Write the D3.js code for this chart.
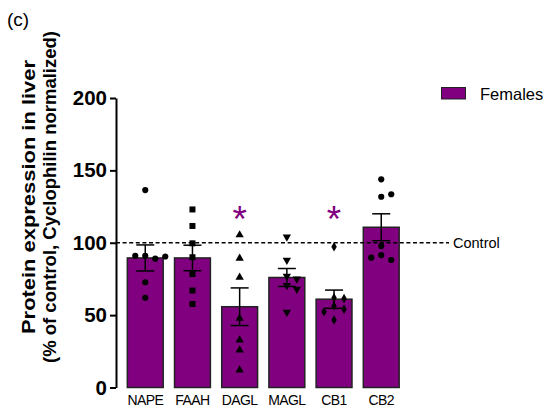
<!DOCTYPE html>
<html>
<head>
<meta charset="utf-8">
<script src="https://cdn.jsdelivr.net/npm/d3@7"></script>
<style>
  body { margin: 0; background: #fff; }
  svg { display: block; font-family: "Liberation Sans", Arial, sans-serif; }
</style>
</head>
<body>
<div id="chart"></div>
<script>
// data
const proteins = ["NAPE", "FAAH", "DAGL", "MAGL", "CB1", "CB2"];
const means = [89.5, 89.5, 55.8, 76, 61, 110.7];
const sems = [9, 8.8, 13, 6.2, 6.3, 9.3];
const individuals = [
  [136.4, 91, 89, 91, 90.5, 72.7, 62],
  [123, 111.6, 99.6, 90, 78.4, 67, 57.7],
  [105.4, 89.3, 76.1, 47.8, 32.8, 25.9, 12.1],
  [104, 88, 77, 75, 70.5, 68, 52],
  [97.3, 62, 61.5, 56.3, 54, 52.4, 46.6],
  [143.8, 131.8, 133.5, 97.8, 91.5, 88.1, 89.7]
];
const significant = ["DAGL", "CB1"];
const yTicks = [0, 50, 100, 150, 200];
const controlLevel = 100;

const purple = "#800080";
const W = 548, H = 418;

const svg = d3.select("#chart").append("svg")
  .attr("width", W).attr("height", H);

const x = d3.scaleBand()
  .domain(proteins)
  .range([116, 410.5])
  .paddingInner(0.24)
  .paddingOuter(0.24);

const y = d3.scaleLinear()
  .domain([0, 200])
  .range([387.5, 98]);

// panel letter
svg.append("text")
  .attr("x", 7).attr("y", 26)
  .style("font-size", "19px")
  .text("(c)");

// y axis
const yAxis = svg.append("g")
  .attr("transform", "translate(116,0)")
  .call(d3.axisLeft(y).tickValues(yTicks).tickSize(6).tickSizeOuter(0).tickPadding(3));
yAxis.select(".domain").attr("stroke", "#000").attr("stroke-width", 2);
yAxis.selectAll(".tick line").attr("stroke", "#000").attr("stroke-width", 2);
yAxis.selectAll(".tick text")
  .style("font-family", "'Liberation Sans', Arial, sans-serif")
  .style("font-size", "20.5px")
  .style("font-weight", "bold")
  .attr("fill", "#000");

// y title
const title = svg.append("text")
  .attr("transform", "translate(0,197) rotate(-90)")
  .attr("text-anchor", "middle")
  .style("font-size", "18.5px")
  .style("font-weight", "bold");
title.append("tspan").attr("x", 0).attr("y", 34.5)
  .attr("textLength", 274).attr("lengthAdjust", "spacingAndGlyphs")
  .text("Protein expression in liver");
title.append("tspan").attr("x", 0).attr("y", 55.5)
  .attr("textLength", 332).attr("lengthAdjust", "spacingAndGlyphs")
  .text("(% of control, Cyclophilin normalized)");

// bars
svg.append("g").selectAll("rect")
  .data(proteins)
  .join("rect")
  .attr("x", d => x(d))
  .attr("width", x.bandwidth())
  .attr("y", (d, i) => y(means[i]))
  .attr("height", (d, i) => y(0) - y(means[i]))
  .attr("fill", purple)
  .attr("stroke", "#222")
  .attr("stroke-width", 1.5);

// x labels
svg.append("g").selectAll("text")
  .data(proteins)
  .join("text")
  .attr("x", d => x(d) + x.bandwidth() / 2)
  .attr("y", 405)
  .attr("text-anchor", "middle")
  .style("font-size", "14px")
  .style("letter-spacing", "-0.6px")
  .text(d => d);

// control line
svg.append("line")
  .attr("x1", 116).attr("x2", 449)
  .attr("y1", y(controlLevel)).attr("y2", y(controlLevel))
  .attr("stroke", "#000")
  .attr("stroke-width", 1.3)
  .attr("stroke-dasharray", "4,2.6");
svg.append("text")
  .attr("x", 453).attr("y", y(controlLevel) + 5)
  .style("font-size", "14.5px")
  .text("Control");

// individual points, dodged so they don't overlap
const shapes = [d3.symbolCircle, d3.symbolSquare, d3.symbolTriangle, d3.symbolTriangle, d3.symbolDiamond, d3.symbolCircle];
const sizes = [30, 36, 30, 30, 26, 30];
const rotations = [0, 0, 0, 180, 0, 0];

const pts = [];
proteins.forEach((p, i) => {
  const cx = x(p) + x.bandwidth() / 2;
  const placed = [];
  individuals[i].forEach(v => {
    const py = y(v);
    const offs = [0, 10, -10, 20, -20];
    let ox = 0;
    for (const o of offs) {
      if (!placed.some(q => Math.abs(q.x - (cx + o)) < 8 && Math.abs(q.y - py) < 7)) { ox = o; break; }
    }
    const pt = { x: cx + ox, y: py, i };
    placed.push(pt);
    pts.push(pt);
  });
});

// error bars
const eb = svg.append("g").attr("stroke", "#000").attr("stroke-width", 1.5);
proteins.forEach((p, i) => {
  const cx = x(p) + x.bandwidth() / 2;
  const top = y(means[i] + sems[i]), bot = y(means[i] - sems[i]);
  eb.append("line").attr("x1", cx).attr("x2", cx).attr("y1", top).attr("y2", bot);
  eb.append("line").attr("x1", cx - 9).attr("x2", cx + 9).attr("y1", top).attr("y2", top);
  eb.append("line").attr("x1", cx - 9).attr("x2", cx + 9).attr("y1", bot).attr("y2", bot);
});

svg.append("g").selectAll("path")
  .data(pts)
  .join("path")
  .attr("d", d => d3.symbol().type(shapes[d.i]).size(sizes[d.i])())
  .attr("transform", d => `translate(${d.x},${d.y}) rotate(${rotations[d.i]})`)
  .attr("fill", "#000");

// significance stars
svg.append("g").selectAll("text")
  .data(significant)
  .join("text")
  .attr("x", d => x(d) + x.bandwidth() / 2)
  .attr("y", 232)
  .attr("text-anchor", "middle")
  .attr("fill", purple)
  .style("font-size", "37px")
  .text("*");

// legend
svg.append("rect")
  .attr("x", 441.5).attr("y", 87.5)
  .attr("width", 24).attr("height", 11.5)
  .attr("fill", purple)
  .attr("stroke", "#222")
  .attr("stroke-width", 1);
svg.append("text")
  .attr("x", 480).attr("y", 99.5)
  .style("font-size", "16.5px")
  .text("Females");
</script>
</body>
</html>
